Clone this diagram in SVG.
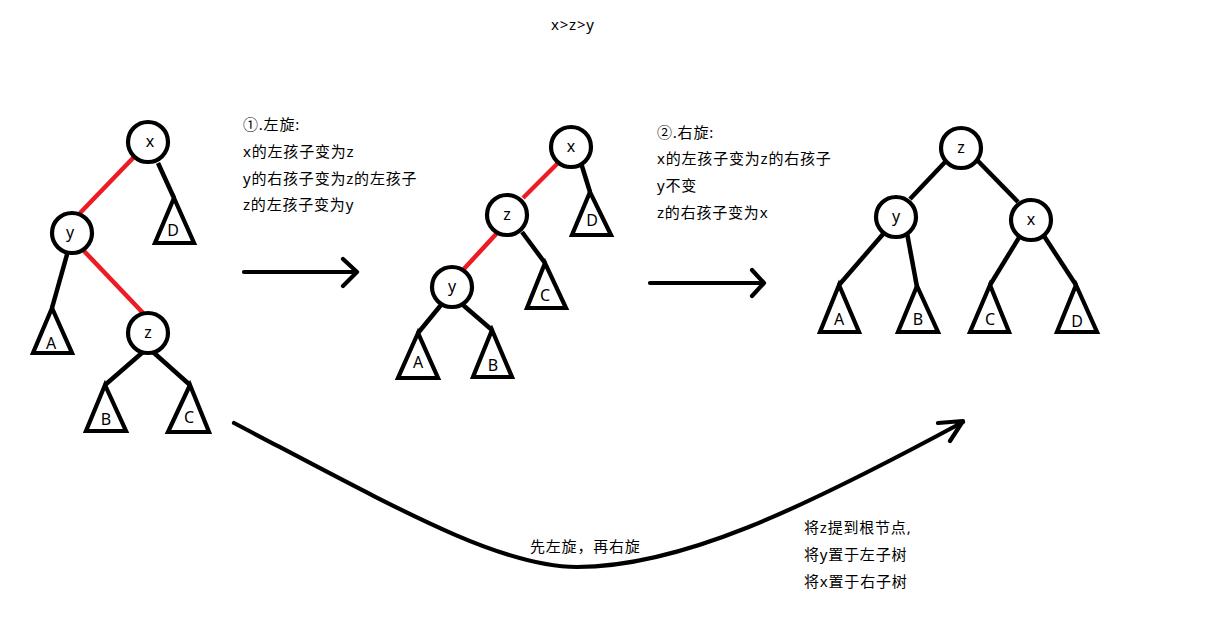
<svg xmlns="http://www.w3.org/2000/svg" width="1220" height="631" viewBox="0 0 1220 631">
<style>
  .bg{fill:#fff}
  .node circle{fill:#fff;stroke:#000;stroke-width:4.2}
  .tri polygon{fill:#fff;stroke:#000;stroke-width:4.2;stroke-linejoin:miter}
  .edge{stroke:#000;stroke-width:4.5;fill:none}
  .red{stroke:#ED1C24;stroke-width:4.5;fill:none}
  .arrow{stroke:#000;stroke-width:4.2;fill:none;stroke-linecap:round;stroke-linejoin:round}
  .lbl{font-family:"Noto Sans","Noto Sans CJK SC",sans-serif;font-size:16px;fill:#000;text-anchor:middle}
  .txt{font-family:"Noto Sans","Noto Sans CJK SC",sans-serif;font-size:15px;fill:#000;letter-spacing:0.8px}
</style>
<rect class="bg" x="0" y="0" width="1220" height="631"/>
<text class="txt" x="551" y="30">x&gt;z&gt;y</text>

<g id="connectors">
  <!-- left tree -->
  <line class="edge" x1="158" y1="163" x2="174" y2="198"/>
  <line class="red" x1="134" y1="157" x2="80" y2="213"/>
  <line class="edge" x1="68" y1="251" x2="52" y2="308"/>
  <line class="red" x1="84" y1="251" x2="144" y2="314"/>
  <line class="edge" x1="143" y1="352" x2="105" y2="385"/>
  <line class="edge" x1="153" y1="352" x2="190" y2="385"/>
  <!-- middle tree -->
  <line class="edge" x1="581" y1="163" x2="590" y2="192"/>
  <line class="red" x1="558" y1="163" x2="523" y2="198"/>
  <line class="edge" x1="522" y1="232" x2="545" y2="263"/>
  <line class="red" x1="498" y1="232" x2="462" y2="271"/>
  <line class="edge" x1="441" y1="305" x2="418" y2="333"/>
  <line class="edge" x1="463" y1="305" x2="492" y2="330"/>
  <!-- right tree -->
  <line class="edge" x1="947" y1="160" x2="910" y2="199"/>
  <line class="edge" x1="977" y1="160" x2="1018" y2="202"/>
  <line class="edge" x1="884" y1="233" x2="839" y2="285"/>
  <line class="edge" x1="907" y1="233" x2="917" y2="287"/>
  <line class="edge" x1="1020" y1="236" x2="990" y2="285"/>
  <line class="edge" x1="1044" y1="236" x2="1076" y2="285"/>
  <!-- arrows -->
  <path class="arrow" d="M244,272 H357 M343,259 L357,272 L343,286"/>
  <path class="arrow" d="M650,283 H764 M752,270 L764,283 L752,296"/>
  <path class="arrow" d="M234,423 C400,510 500,567 577,567 C680,567 800,510 963,422 M938,423 L963,421 L950,441"/>
</g>

<g id="left-tree">
  <g id="L-x" class="node"><circle cx="148" cy="142" r="20"/><text class="lbl" x="150" y="147">x</text></g>
  <g id="L-y" class="node"><circle cx="72" cy="233" r="20"/><text class="lbl" x="70" y="238">y</text></g>
  <g id="L-z" class="node"><circle cx="148" cy="333" r="20"/><text class="lbl" x="148" y="338">z</text></g>
  <g id="L-A" class="tri"><polygon points="52,308 33,353 72,353"/><text class="lbl" x="51" y="349">A</text></g>
  <g id="L-B" class="tri"><polygon points="105,385 86,431 126,431"/><text class="lbl" x="106" y="425">B</text></g>
  <g id="L-C" class="tri"><polygon points="190,385 168,432 209,432"/><text class="lbl" x="189" y="423">C</text></g>
  <g id="L-D" class="tri"><polygon points="174,198 155,243 194,243"/><text class="lbl" x="173" y="236">D</text></g>
</g>

<g id="mid-tree">
  <g id="M-x" class="node"><circle cx="571" cy="147" r="20"/><text class="lbl" x="571" y="152">x</text></g>
  <g id="M-z" class="node"><circle cx="507" cy="215" r="20"/><text class="lbl" x="507" y="220">z</text></g>
  <g id="M-y" class="node"><circle cx="452" cy="287" r="20"/><text class="lbl" x="452" y="292">y</text></g>
  <g id="M-D" class="tri"><polygon points="590,192 572,235 611,235"/><text class="lbl" x="592" y="226">D</text></g>
  <g id="M-C" class="tri"><polygon points="545,263 527,308 566,308"/><text class="lbl" x="545" y="301">C</text></g>
  <g id="M-A" class="tri"><polygon points="418,333 398,378 438,378"/><text class="lbl" x="418" y="368">A</text></g>
  <g id="M-B" class="tri"><polygon points="492,330 473,377 512,377"/><text class="lbl" x="493" y="371">B</text></g>
</g>

<g id="right-tree">
  <g id="R-z" class="node"><circle cx="961" cy="148" r="20"/><text class="lbl" x="961" y="153">z</text></g>
  <g id="R-y" class="node"><circle cx="896" cy="217" r="20"/><text class="lbl" x="896" y="222">y</text></g>
  <g id="R-x" class="node"><circle cx="1031" cy="220" r="20"/><text class="lbl" x="1031" y="225">x</text></g>
  <g id="R-A" class="tri"><polygon points="839,285 820,332 859,332"/><text class="lbl" x="839" y="325">A</text></g>
  <g id="R-B" class="tri"><polygon points="917,286 898,332 938,332"/><text class="lbl" x="918" y="325">B</text></g>
  <g id="R-C" class="tri"><polygon points="990,285 970,332 1009,332"/><text class="lbl" x="990" y="325">C</text></g>
  <g id="R-D" class="tri"><polygon points="1076,285 1057,332 1097,332"/><text class="lbl" x="1077" y="327">D</text></g>
</g>

<g id="notes">
  <text class="txt" x="243" y="130">①.左旋:</text>
  <text class="txt" x="243" y="157">x的左孩子变为z</text>
  <text class="txt" x="243" y="184">y的右孩子变为z的左孩子</text>
  <text class="txt" x="243" y="210">z的左孩子变为y</text>

  <text class="txt" x="657" y="138">②.右旋:</text>
  <text class="txt" x="657" y="164">x的左孩子变为z的右孩子</text>
  <text class="txt" x="657" y="191">y不变</text>
  <text class="txt" x="657" y="218">z的右孩子变为x</text>

  <text class="txt" x="530" y="552">先左旋，再右旋</text>

  <text class="txt" x="804" y="533">将z提到根节点,</text>
  <text class="txt" x="804" y="560">将y置于左子树</text>
  <text class="txt" x="804" y="587">将x置于右子树</text>
</g>
</svg>
